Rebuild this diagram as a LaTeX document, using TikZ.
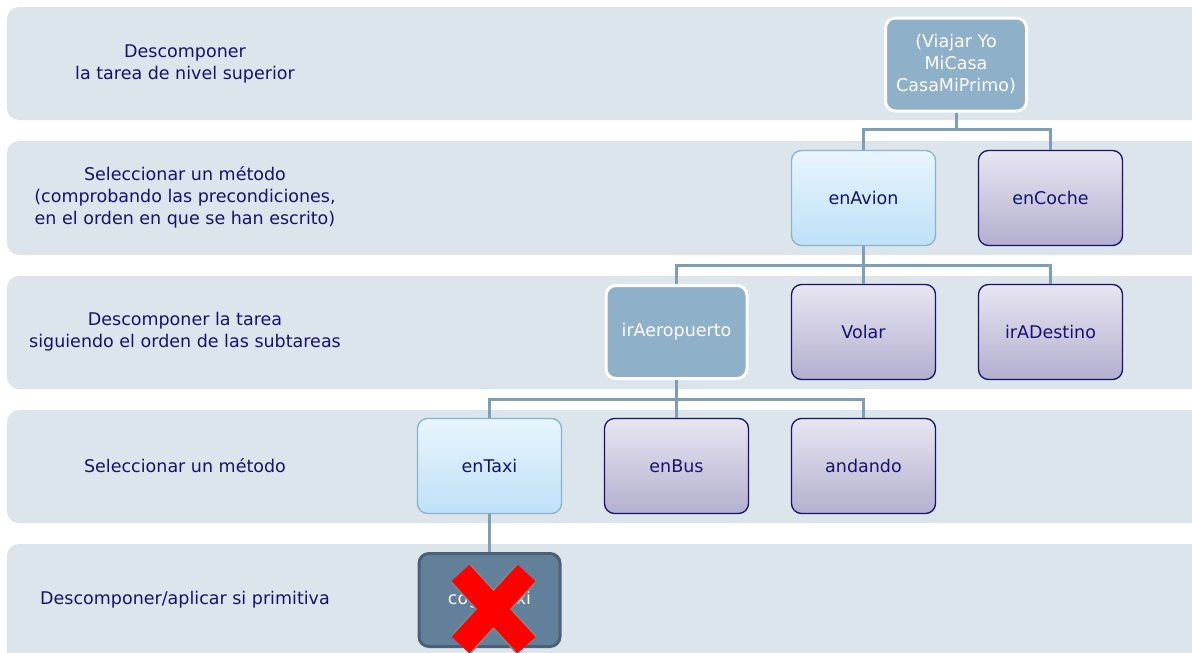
\documentclass[tikz,border=0pt]{standalone}
\usepackage{fontspec}
\setmainfont{DejaVu Sans}
\usetikzlibrary{calc}

\definecolor{bandc}{HTML}{DCE4EC}
\definecolor{navy}{HTML}{14146E}
\definecolor{steel}{HTML}{8EB0C8}
\definecolor{linkc}{HTML}{7D9EB4}
\definecolor{avitop}{HTML}{E8F5FD}
\definecolor{avibot}{HTML}{BEE1F8}
\definecolor{avibrd}{HTML}{8CB2C8}
\definecolor{alttop}{HTML}{E8E6F2}
\definecolor{altbot}{HTML}{B3AFCF}
\definecolor{primf}{HTML}{62809A}
\definecolor{primb}{HTML}{4A6175}
\definecolor{xred}{HTML}{FF0000}
\definecolor{xgray}{HTML}{7E8A88}

\begin{document}
\begin{tikzpicture}[x=1pt, y=-1pt,
  every node/.style={font=\fontsize{17.5}{22}\selectfont, text=navy, align=center},
  band/.style={fill=bandc, rounded corners=12pt},
  cur/.style={draw=white, line width=3pt, fill=steel, rounded corners=10pt,
              minimum width=141pt, minimum height=93pt, text=white},
  sel/.style={draw=avibrd, line width=1.3pt, top color=avitop, bottom color=avibot,
              rounded corners=10pt, minimum width=144pt, minimum height=95pt},
  alt/.style={draw=navy, line width=1.3pt, top color=alttop, bottom color=altbot,
              rounded corners=10pt, minimum width=144pt, minimum height=95pt},
  prim/.style={draw=primb, line width=3pt, fill=primf, rounded corners=10pt,
               minimum width=141pt, minimum height=93pt, text=white},
  ln/.style={draw=linkc, line width=3pt},
  xout/.style={line width=27pt, draw=xgray},
  xin/.style={line width=24pt, draw=xred}]

\useasboundingbox (0,0) rectangle (1192,653);

%% --- bands ---
\fill[band] (7,7)   rectangle (1210,120);
\fill[band] (7,141) rectangle (1210,255);
\fill[band] (7,276) rectangle (1210,389);
\fill[band] (7,410) rectangle (1210,523);
\fill[band] (7,544) rectangle (1210,670);

%% --- level labels ---
\node (L1) at (185,63.5) {Descomponer\\la tarea de nivel superior};
\node (L2) at (185,197)  {Seleccionar un método\\(comprobando las precondiciones,\\en el orden en que se han escrito)};
\node (L3) at (185,332)  {Descomponer la tarea\\siguiendo el orden de las subtareas};
\node (L4) at (185,466)  {Seleccionar un método};
\node (L5) at (185,600)  {Descomponer/aplicar si primitiva};

%% --- tree ---
\node[cur]  (TOP) at (956,64.5)  {(Viajar Yo\\MiCasa\\CasaMiPrimo)};
\node[sel]  (AVI) at (863.5,198) {enAvion};
\node[alt]  (COC) at (1050.5,198) {enCoche};
\node[cur]  (AER) at (676.5,332) {irAeropuerto};
\node[alt]  (VOL) at (863.5,332) {Volar};
\node[alt]  (DES) at (1050.5,332) {irADestino};
\node[sel]  (TAX) at (489.5,466) {enTaxi};
\node[alt]  (BUS) at (676.5,466) {enBus};
\node[alt]  (AND) at (863.5,466) {andando};
\node[prim] (COG) at (489.5,600) {cogerTaxi};

%% --- connectors ---
\draw[ln] (TOP.south) -- ++(0,17) -| (AVI.north);
\draw[ln] (TOP.south) -- ++(0,17) -| (COC.north);
\draw[ln] (AVI.south) -- ++(0,19) -| (AER.north);
\draw[ln] (AVI.south) -- ++(0,19) -| (VOL.north);
\draw[ln] (AVI.south) -- ++(0,19) -| (DES.north);
\draw[ln] (AER.south) -- ++(0,19) -| (TAX.north);
\draw[ln] (AER.south) -- ++(0,19) -| (BUS.north);
\draw[ln] (AER.south) -- ++(0,19) -| (AND.north);
\draw[ln] (TAX.south) -- (COG.north);

%% --- cross over the primitive ---
\coordinate (XC) at ($(COG.center)+(4,9)$);
\draw[xout] ($(XC)+(-33,-36)$) -- ($(XC)+(33,36)$);
\draw[xout] ($(XC)+(33,-36)$) -- ($(XC)+(-33,36)$);
\draw[xin]  ($(XC)+(-33,-36)$) -- ($(XC)+(33,36)$);
\draw[xin]  ($(XC)+(33,-36)$) -- ($(XC)+(-33,36)$);
\end{tikzpicture}
\end{document}
